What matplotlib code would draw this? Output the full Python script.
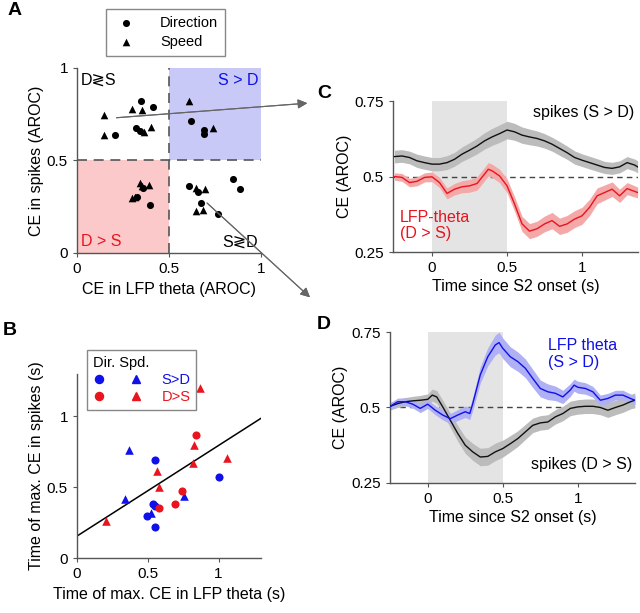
import numpy as np
import matplotlib
matplotlib.use("Agg")
import matplotlib.pyplot as plt
from matplotlib.lines import Line2D
from matplotlib.legend_handler import HandlerTuple
from matplotlib.patches import Rectangle

plt.rcParams['font.family'] = ['Liberation Sans', 'DejaVu Sans']
plt.rcParams['font.size'] = 10.5

BLUE = '#1010e8'
RED = '#e8141e'

# ---- panel A: CE in LFP theta vs CE in spikes
dir_x = [0.207, 0.346, 0.415, 0.321, 0.342, 0.62, 0.69, 0.692,
         0.36, 0.324, 0.397, 0.609, 0.656, 0.846, 0.886, 0.674, 0.768]
dir_y = [0.638, 0.823, 0.787, 0.677, 0.661, 0.715, 0.667, 0.645,
         0.35, 0.304, 0.259, 0.362, 0.331, 0.398, 0.344, 0.269, 0.211]
spd_x = [0.149, 0.149, 0.297, 0.351, 0.364, 0.402, 0.61, 0.741,
         0.342, 0.351, 0.393, 0.297, 0.315, 0.647, 0.696, 0.645, 0.686]
spd_y = [0.746, 0.638, 0.778, 0.773, 0.652, 0.679, 0.822, 0.677,
         0.38, 0.362, 0.368, 0.296, 0.304, 0.353, 0.344, 0.227, 0.232]

# ---- panel B: time of max CE
sd_dir_x = [0.548, 0.537, 0.553, 0.494, 0.548, 1.005]
sd_dir_y = [0.695, 0.38, 0.366, 0.296, 0.216, 0.573]
sd_spd_x = [0.338, 0.367, 0.757, 0.52]
sd_spd_y = [0.42, 0.765, 0.439, 0.32]
ds_dir_x = [0.839, 0.74, 0.69, 0.582]
ds_dir_y = [0.871, 0.474, 0.38, 0.354]
ds_spd_x = [0.208, 0.872, 0.83, 0.818, 0.565, 0.582, 1.06]
ds_spd_y = [0.263, 1.20, 0.80, 0.674, 0.615, 0.502, 0.71]
fit_intercept = 0.155
fit_slope = 0.64

# ---- panel C
c_spk_t = [-0.25, -0.2, -0.15, -0.1, -0.05, 0, 0.05, 0.1, 0.15, 0.2, 0.25, 0.3, 0.35, 0.4,
           0.45, 0.5, 0.55, 0.6, 0.65, 0.7, 0.75, 0.8, 0.85, 0.9, 0.95, 1.0, 1.05, 1.1,
           1.15, 1.2, 1.25, 1.3, 1.35, 1.37]
c_spk = [0.566, 0.568, 0.563, 0.552, 0.546, 0.541, 0.541, 0.546, 0.557, 0.574, 0.587, 0.601,
         0.618, 0.631, 0.642, 0.654, 0.648, 0.637, 0.631, 0.626, 0.618, 0.607, 0.593, 0.579,
         0.563, 0.554, 0.546, 0.538, 0.530, 0.527, 0.532, 0.546, 0.538, 0.532]
c_spk_sem = [0.021, 0.021, 0.021, 0.022, 0.022, 0.022, 0.022, 0.023, 0.023, 0.024, 0.025, 0.026,
             0.027, 0.028, 0.029, 0.029, 0.028, 0.027, 0.026, 0.025, 0.024, 0.023, 0.023, 0.022,
             0.022, 0.021, 0.021, 0.021, 0.02, 0.02, 0.02, 0.02, 0.02, 0.02]
c_lfp_t = [-0.25, -0.2, -0.15, -0.1, -0.05, 0, 0.05, 0.1, 0.15, 0.2, 0.25, 0.3, 0.35, 0.375,
           0.4, 0.45, 0.5, 0.55, 0.6, 0.65, 0.7, 0.75, 0.8, 0.85, 0.9, 0.95, 1.0, 1.05, 1.1,
           1.15, 1.2, 1.25, 1.3, 1.37]
c_lfp = [0.50, 0.497, 0.48, 0.484, 0.497, 0.499, 0.48, 0.444, 0.458, 0.466, 0.469, 0.477,
         0.508, 0.524, 0.519, 0.502, 0.469, 0.409, 0.343, 0.319, 0.327, 0.343, 0.354, 0.335,
         0.343, 0.359, 0.370, 0.398, 0.436, 0.447, 0.458, 0.436, 0.460, 0.447]
c_lfp_sem = [0.012, 0.013, 0.014, 0.015, 0.015, 0.016, 0.017, 0.018, 0.019, 0.02, 0.021, 0.022,
             0.022, 0.022, 0.022, 0.022, 0.023, 0.024, 0.025, 0.025, 0.025, 0.026, 0.027, 0.027,
             0.028, 0.028, 0.028, 0.027, 0.026, 0.025, 0.024, 0.022, 0.02, 0.018]

# ---- panel D
d_lfp_t = [-0.25, -0.2, -0.15, -0.1, -0.05, 0, 0.05, 0.1, 0.15, 0.2, 0.25, 0.28, 0.3, 0.35,
           0.4, 0.45, 0.475, 0.5, 0.55, 0.6, 0.65, 0.7, 0.75, 0.8, 0.85, 0.9, 0.95, 0.975,
           1.0, 1.05, 1.1, 1.15, 1.2, 1.25, 1.3, 1.35, 1.38]
d_lfp = [0.504, 0.519, 0.519, 0.511, 0.497, 0.511, 0.491, 0.475, 0.463, 0.475, 0.486, 0.48,
         0.513, 0.608, 0.668, 0.707, 0.715, 0.696, 0.668, 0.652, 0.630, 0.596, 0.563, 0.552,
         0.547, 0.535, 0.558, 0.574, 0.567, 0.563, 0.552, 0.524, 0.530, 0.541, 0.541, 0.530,
         0.524]
d_lfp_sem = [0.012, 0.012, 0.013, 0.013, 0.014, 0.014, 0.015, 0.016, 0.017, 0.018, 0.019, 0.02,
             0.022, 0.027, 0.03, 0.033, 0.034, 0.034, 0.033, 0.032, 0.031, 0.03, 0.028, 0.026,
             0.024, 0.022, 0.021, 0.02, 0.02, 0.019, 0.018, 0.017, 0.017, 0.016, 0.016, 0.015,
             0.015]
d_spk_t = [-0.25, -0.2, -0.15, -0.1, -0.05, 0, 0.03, 0.06, 0.1, 0.15, 0.2, 0.25, 0.3, 0.35,
           0.4, 0.45, 0.5, 0.55, 0.6, 0.65, 0.7, 0.75, 0.8, 0.85, 0.9, 0.95, 1.0, 1.05, 1.1,
           1.15, 1.2, 1.25, 1.3, 1.35, 1.38]
d_spk = [0.504, 0.513, 0.519, 0.522, 0.524, 0.527, 0.541, 0.535, 0.502, 0.458, 0.414, 0.375,
         0.353, 0.336, 0.338, 0.353, 0.364, 0.380, 0.397, 0.419, 0.441, 0.449, 0.452, 0.469,
         0.480, 0.497, 0.502, 0.504, 0.504, 0.500, 0.491, 0.500, 0.508, 0.519, 0.524]
d_spk_sem = [0.012, 0.013, 0.014, 0.015, 0.016, 0.018, 0.02, 0.021, 0.022, 0.024, 0.026, 0.027,
             0.028, 0.029, 0.029, 0.029, 0.028, 0.027, 0.026, 0.025, 0.024, 0.024, 0.024, 0.024,
             0.024, 0.024, 0.024, 0.024, 0.024, 0.024, 0.024, 0.024, 0.024, 0.024, 0.024]

fig = plt.figure(figsize=(6.4, 6.13), dpi=100)


def style(ax):
    for s in ['top', 'right']:
        ax.spines[s].set_visible(False)
    for s in ['left', 'bottom']:
        ax.spines[s].set_color('#555555')
        ax.spines[s].set_linewidth(1.0)
    ax.tick_params(direction='out', length=3, color='#555555', labelsize=11)


def fmt(v):
    return ('%g' % v)


# ---------------- A
axA = fig.add_axes([0.1203, 0.5873, 0.2875, 0.3018])
axA.add_patch(Rectangle((0.5, 0.5), 0.5, 0.5, color='#c9c9f7', lw=0, zorder=0))
axA.add_patch(Rectangle((0, 0), 0.5, 0.5, color='#fbc9c9', lw=0, zorder=0))
axA.axhline(0.5, color='#555555', ls=(0, (6, 4)), lw=1.2, zorder=1)
axA.axvline(0.5, color='#555555', ls=(0, (6, 4)), lw=1.2, zorder=1)
axA.scatter(dir_x, dir_y, s=26, marker='o', color='k', zorder=3, lw=0, label='Direction')
axA.scatter(spd_x, spd_y, s=30, marker='^', color='k', zorder=3, lw=0, label='Speed')
axA.set_xlim(0, 1)
axA.set_ylim(0, 1)
axA.set_xticks([0, 0.5, 1])
axA.set_yticks([0, 0.5, 1])
axA.set_xticklabels([fmt(v) for v in [0, 0.5, 1]])
axA.set_yticklabels([fmt(v) for v in [0, 0.5, 1]])
style(axA)
axA.set_xlabel('CE in LFP theta (AROC)', fontsize=11.5, labelpad=4)
axA.set_ylabel('CE in spikes (AROC)', fontsize=11.5, labelpad=2)
axA.text(0.02, 0.975, 'D≷S', ha='left', va='top', fontsize=11.5)
axA.text(0.985, 0.975, 'S > D', ha='right', va='top', fontsize=11.5, color=BLUE)
axA.text(0.02, 0.02, 'D > S', ha='left', va='bottom', fontsize=11.5, color=RED)
axA.text(0.985, 0.02, 'S≷D', ha='right', va='bottom', fontsize=11.5)
legA = axA.legend(loc='upper left', bbox_to_anchor=(0.1656, 0.9853),
                  bbox_transform=fig.transFigure, borderaxespad=0, fancybox=False,
                  edgecolor='#888888', fontsize=10.5, handletextpad=1.4,
                  borderpad=0.5, labelspacing=0.3, handlelength=1.8, framealpha=1)
legA.get_frame().set_linewidth(1.0)

# arrows from A to C and D
fig.add_artist(plt.annotate('', xy=(0.4844, 0.832), xycoords='figure fraction',
                            xytext=(0.20, 0.73), textcoords=axA.transData,
                            arrowprops=dict(arrowstyle='-|>', color='#666666', lw=0.8,
                                            mutation_scale=14)))
fig.add_artist(plt.annotate('', xy=(0.4875, 0.512), xycoords='figure fraction',
                            xytext=(0.696, 0.28), textcoords=axA.transData,
                            arrowprops=dict(arrowstyle='-|>', color='#666666', lw=0.8,
                                            mutation_scale=14)))

# ---------------- B
axB = fig.add_axes([0.1203, 0.0897, 0.2875, 0.3002])
axB.set_xlim(0, 1.3)
axB.set_ylim(0, 1.3)
fx = np.array(axB.get_xlim())
axB.plot(fx, fit_intercept + fit_slope * fx, color='k', lw=1.1, zorder=2)
axB.scatter(sd_dir_x, sd_dir_y, s=34, marker='o', color=BLUE, lw=0, zorder=3)
axB.scatter(sd_spd_x, sd_spd_y, s=38, marker='^', color=BLUE, lw=0, zorder=3)
axB.scatter(ds_dir_x, ds_dir_y, s=34, marker='o', color=RED, lw=0, zorder=3)
axB.scatter(ds_spd_x, ds_spd_y, s=38, marker='^', color=RED, lw=0, zorder=3)
axB.set_xticks([0, 0.5, 1])
axB.set_yticks([0, 0.5, 1])
axB.set_xticklabels([fmt(v) for v in [0, 0.5, 1]])
axB.set_yticklabels([fmt(v) for v in [0, 0.5, 1]])
style(axB)
axB.set_xlabel('Time of max. CE in LFP theta (s)', fontsize=11.5, labelpad=4)
axB.set_ylabel('Time of max. CE in spikes (s)', fontsize=11.5, labelpad=2)
h_sd = (Line2D([], [], marker='o', color=BLUE, ls='', ms=5.8),
        Line2D([], [], marker='^', color=BLUE, ls='', ms=5.8))
h_ds = (Line2D([], [], marker='o', color=RED, ls='', ms=5.8),
        Line2D([], [], marker='^', color=RED, ls='', ms=5.8))
legB = axB.legend([h_sd, h_ds], ['S>D', 'D>S'], title='Dir. Spd.',
                  handler_map={tuple: HandlerTuple(ndivide=None, pad=1.6)},
                  loc='upper left', bbox_to_anchor=(0.136, 0.429),
                  bbox_transform=fig.transFigure, borderaxespad=0, fancybox=False,
                  edgecolor='#888888', fontsize=10.5, title_fontsize=10.5,
                  handlelength=3.4, handletextpad=1.3, borderpad=0.4,
                  labelspacing=0.2, framealpha=1, alignment='left')
legB.get_frame().set_linewidth(1.0)
for txt, col in zip(legB.get_texts(), [BLUE, RED]):
    txt.set_color(col)


# ---------------- C and D
def trace_axes(rect, xlim):
    ax = fig.add_axes(rect)
    ax.set_xlim(*xlim)
    ax.set_ylim(0.25, 0.75)
    ax.axvspan(0, 0.5, color='#e4e4e4', lw=0, zorder=0)
    ax.axhline(0.5, color='#444444', ls=(0, (4, 3)), lw=1.0, zorder=1)
    ax.set_xticks([0, 0.5, 1])
    ax.set_xticklabels([fmt(v) for v in [0, 0.5, 1]])
    ax.set_yticks([0.25, 0.5, 0.75])
    ax.set_yticklabels([fmt(v) for v in [0.25, 0.5, 0.75]])
    style(ax)
    ax.set_xlabel('Time since S2 onset (s)', fontsize=11.5, labelpad=3)
    ax.set_ylabel('CE (AROC)', fontsize=11.5, labelpad=2)
    return ax


def band(ax, t, m, sem, line_col, fill_col):
    t = np.array(t)
    m = np.array(m)
    sem = np.array(sem)
    ax.fill_between(t, m - sem, m + sem, color=fill_col, lw=0, zorder=2)
    ax.plot(t, m, color=line_col, lw=1.0, zorder=3)


axC = trace_axes([0.614, 0.5889, 0.383, 0.2463], (-0.26, 1.373))
band(axC, c_spk_t, c_spk, c_spk_sem, '#111111', '#bcbcbc')
band(axC, c_lfp_t, c_lfp, c_lfp_sem, RED, '#f4a8a8')
axC.text(1.35, 0.712, 'spikes (S > D)', ha='right', va='center', fontsize=11.5)
axC.text(-0.215, 0.338, 'LFP-theta\n(D > S)', ha='left', va='center', fontsize=11.5,
         color=RED, linespacing=1.15)

axD = trace_axes([0.609, 0.2121, 0.383, 0.2463], (-0.253, 1.38))
band(axD, d_spk_t, d_spk, d_spk_sem, '#111111', '#bcbcbc')
band(axD, d_lfp_t, d_lfp, d_lfp_sem, BLUE, '#b0b0f4')
axD.text(0.8, 0.678, 'LFP theta\n(S > D)', ha='left', va='center', fontsize=11.5,
         color=BLUE, linespacing=1.15)
axD.text(1.36, 0.312, 'spikes (D > S)', ha='right', va='center', fontsize=11.5)

# panel letters
for lbl, x, y in [('A', 0.012, 0.997), ('B', 0.004, 0.475), ('C', 0.495, 0.862),
                  ('D', 0.495, 0.485)]:
    fig.text(x, y, lbl, fontsize=14, fontweight='bold', ha='left', va='top')

fig.savefig('out.png', dpi=100)
